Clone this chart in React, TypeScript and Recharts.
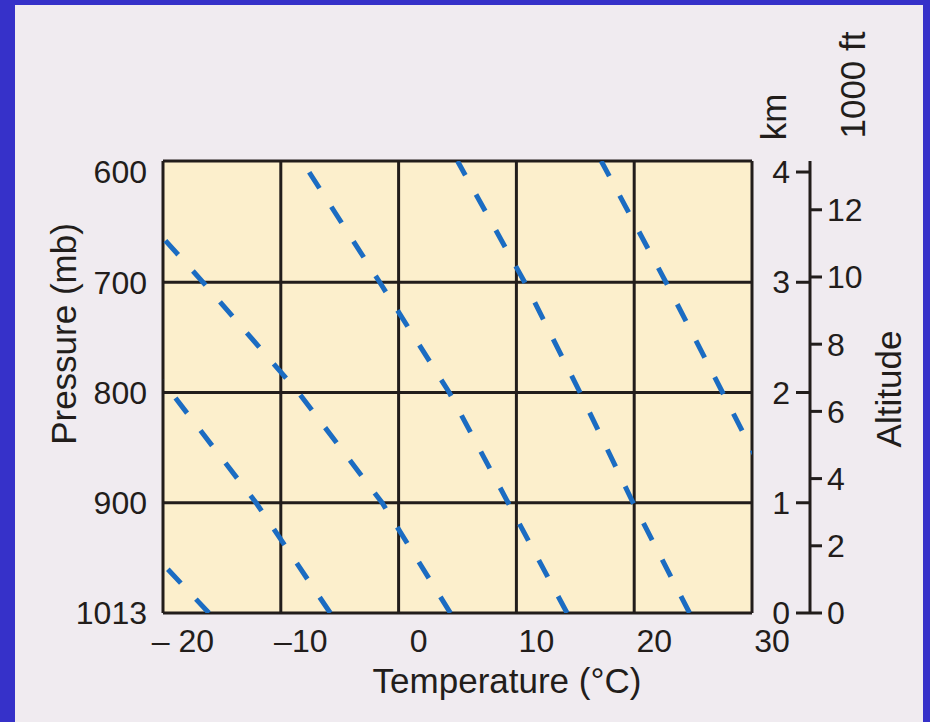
import { LineChart, Line, XAxis, YAxis, CartesianGrid } from "recharts";

// temperature axis (°C)
const tempTicks = [-20, -10, 0, 10, 20, 30];
const tempLabels = ["– 20", "–10", "0", "10", "20", "30"];

// pressure levels and the altitude (km) they line up with on the diagram
const pressureLabels = ["1013", "900", "800", "700", "600"];
const pressureHeights = [0, 1, 2, 3, 4];

const kmTicks = [0, 1, 2, 3, 4];
const ftTicks = [0, 2, 4, 6, 8, 10, 12];

// altitudes (km) of the grid rows; last one is the top of the box
const gridHeights = [0, 1, 2, 3, 4.1];

// saturated adiabats: temperature (°C) read at each of gridHeights
const adiabat1 = [-16.1, -24.9, -34.0, -43.0, -53.0];
const adiabat2 = [-5.8, -12.1, -19.3, -27.3, -37.1];
const adiabat3 = [4.4, -1.4, -8.5, -16.6, -25.9];
const adiabat4 = [14.3, 9.3, 4.3, -1.6, -8.2];
const adiabat5 = [24.7, 19.9, 15.4, 10.7, 5.0];
const adiabat6 = [37.1, 32.3, 27.5, 22.7, 17.2];

const FT_PER_KM = 3.28084;
const TOP_KM = gridHeights[gridHeights.length - 1];

const INK = "#221d1b";
const BOX_FILL = "#fcefcc";
const DASH_BLUE = "#1b6cc2";
const KM_AXIS_W = 58;

const series = [adiabat1, adiabat2, adiabat3, adiabat4, adiabat5, adiabat6].map(
  (temps) => temps.map((t, i) => ({ t, h: gridHeights[i] }))
);

function KmTick(props: any) {
  const { x, y, payload } = props;
  return (
    <g>
      <line
        x1={x + KM_AXIS_W - 14}
        x2={x + KM_AXIS_W}
        y1={y}
        y2={y}
        stroke={INK}
        strokeWidth={3}
      />
      <text
        x={x + KM_AXIS_W - 20}
        y={y}
        textAnchor="end"
        dominantBaseline="central"
        fontSize={32}
        fill={INK}
      >
        {payload.value}
      </text>
    </g>
  );
}

function Title({
  x,
  y,
  text,
  rotate = false,
}: {
  x: number;
  y: number;
  text: string;
  rotate?: boolean;
}) {
  return (
    <text
      x={x}
      y={y}
      transform={rotate ? `rotate(-90, ${x}, ${y})` : undefined}
      textAnchor="middle"
      dominantBaseline="central"
      fontSize={35}
      fill={INK}
    >
      {text}
    </text>
  );
}

export default function App() {
  return (
    <div
      style={{
        position: "fixed",
        left: 0,
        top: 0,
        width: 930,
        height: 722,
        background: "#3631c9",
        fontFamily: '"Liberation Sans", Arial, Helvetica, sans-serif',
      }}
    >
      <div
        style={{
          position: "absolute",
          left: 15,
          top: 5,
          width: 908,
          height: 717,
          background: "#f0ebf0",
        }}
      />
      <div style={{ position: "absolute", left: 0, top: 0 }}>
        <LineChart
          width={930}
          height={722}
          margin={{ top: 161, right: 40, bottom: 29, left: 63 }}
        >
          <CartesianGrid
            xAxisId="t"
            yAxisId="h1"
            fill={BOX_FILL}
            fillOpacity={1}
            stroke={INK}
            strokeWidth={3}
            verticalValues={tempTicks}
            horizontalValues={gridHeights}
          />
          <XAxis
            xAxisId="t"
            type="number"
            dataKey="t"
            domain={[-20, 30]}
            allowDataOverflow
            ticks={tempTicks}
            interval={0}
            tickFormatter={(v: number) => tempLabels[tempTicks.indexOf(v)]}
            axisLine={false}
            tickLine={false}
            tickSize={0}
            tickMargin={16}
            height={80}
            tick={{ fontSize: 32, fill: INK, dx: 20 }}
            label={{
              content: (p: any) => (
                <Title
                  x={p.viewBox.x + 344}
                  y={p.viewBox.y + 67}
                  text="Temperature (°C)"
                />
              ),
            }}
          />
          <YAxis
            yAxisId="p"
            orientation="left"
            width={100}
            type="number"
            domain={[0, TOP_KM]}
            allowDataOverflow
            ticks={pressureHeights}
            interval={0}
            tickFormatter={(v: number) =>
              pressureLabels[pressureHeights.indexOf(v)]
            }
            axisLine={false}
            tickLine={false}
            tickSize={0}
            tickMargin={16}
            tick={{ fontSize: 32, fill: INK }}
            label={{
              content: (p: any) => (
                <Title
                  x={p.viewBox.x}
                  y={p.viewBox.y + p.viewBox.height / 2 - 53}
                  text="Pressure (mb)"
                  rotate
                />
              ),
            }}
          />
          {/* altitude in km, ticks pointing in towards the shared axis line */}
          <YAxis
            yAxisId="h1"
            orientation="right"
            width={KM_AXIS_W}
            type="number"
            domain={[0, TOP_KM]}
            allowDataOverflow
            ticks={kmTicks}
            interval={0}
            axisLine={false}
            tickLine={false}
            tickSize={0}
            tickMargin={0}
            tick={<KmTick />}
            label={{
              content: (p: any) => (
                <Title
                  x={p.viewBox.x + 21}
                  y={p.viewBox.y - 44}
                  text="km"
                  rotate
                />
              ),
            }}
          />
          {/* altitude in thousands of feet */}
          <YAxis
            yAxisId="h2"
            orientation="right"
            width={80}
            type="number"
            domain={[0, TOP_KM * FT_PER_KM]}
            allowDataOverflow
            ticks={ftTicks}
            interval={0}
            axisLine={{ stroke: INK, strokeWidth: 3 }}
            tickLine={{ stroke: INK, strokeWidth: 3 }}
            tickSize={12}
            tickMargin={5}
            tick={{ fontSize: 32, fill: INK }}
            label={{
              content: (p: any) => (
                <g>
                  <Title
                    x={p.viewBox.x + 42}
                    y={p.viewBox.y - 76}
                    text="1000 ft"
                    rotate
                  />
                  <Title
                    x={p.viewBox.x + 78}
                    y={p.viewBox.y + p.viewBox.height / 2 + 2}
                    text="Altitude"
                    rotate
                  />
                </g>
              ),
            }}
          />
          {series.map((pts, i) => (
            <Line
              key={i}
              xAxisId="t"
              yAxisId="h1"
              data={pts}
              dataKey="h"
              type="linear"
              stroke={DASH_BLUE}
              strokeWidth={5}
              strokeDasharray="19 22"
              dot={false}
              activeDot={false}
              isAnimationActive={false}
            />
          ))}
        </LineChart>
      </div>
    </div>
  );
}
